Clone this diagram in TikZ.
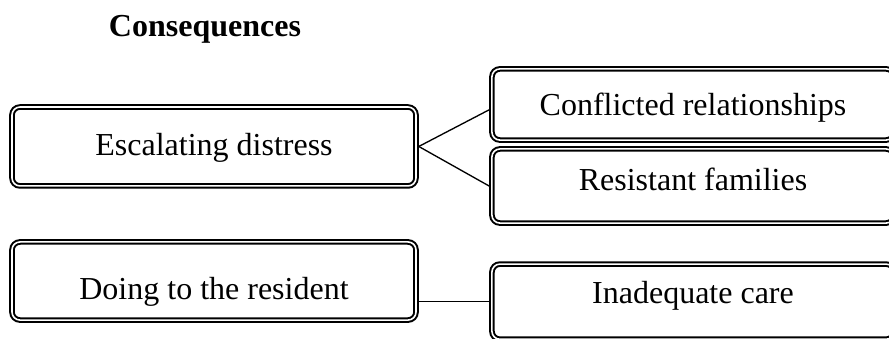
\documentclass[tikz,border=0pt]{standalone}
\usepackage{fontspec}
\setmainfont{Liberation Serif}
\usetikzlibrary{calc}

\begin{document}
\begin{tikzpicture}[x=0.375pt,y=-0.375pt,
    font=\fontsize{12}{14}\selectfont,
    box/.style = {
      draw,
      double,
      line width = 0.75pt,
      double distance = 0.6pt,
      rounded corners = 3pt,
      outer sep = 1.05pt,
      inner sep = 0pt,
      anchor = base
    },
    leftbox/.style = {box, minimum width = 151.5pt},
    rightbox/.style = {box, minimum width = 150.8pt},
    link/.style = {line width = 0.5pt}
  ]
  \useasboundingbox (0,0) rectangle (889,338);

  \node[font=\fontsize{12}{14}\selectfont\bfseries, anchor=base] (title) at (205,36) {Consequences};

  \node[leftbox, text height=18pt, text depth=11.6pt] (esc) at (214,155) {Escalating distress};
  \node[leftbox, text height=21.4pt, text depth=7.9pt] (doing) at (214,299) {Doing to the resident};

  \node[rightbox, text height=17.3pt, text depth=9.4pt] (conf) at (693,115) {Conflicted relationships};
  \node[rightbox, text height=15.4pt, text depth=12.4pt] (resist) at (693,190) {Resistant families};
  \node[rightbox, text height=14.6pt, text depth=13.6pt] (inad) at (693,303) {Inadequate care};

  \draw[link] (esc.east) -- ([yshift=-2pt]conf.west);
  \draw[link] (esc.east) -- (resist.west);
  \draw[link] (doing.east |- inad.west) -- (inad.west);
\end{tikzpicture}
\end{document}
